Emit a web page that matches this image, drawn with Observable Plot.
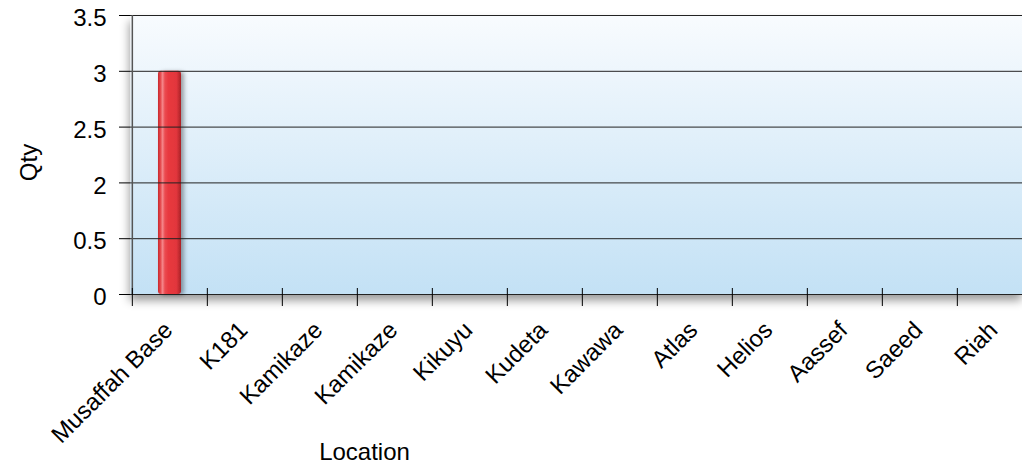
<!DOCTYPE html>
<html><head><meta charset="utf-8">
<script src="https://cdn.jsdelivr.net/npm/d3@7"></script>
<script src="https://cdn.jsdelivr.net/npm/@observablehq/plot@0.6"></script>
<style>body{margin:0;background:#fff;} svg{display:block;overflow:hidden}</style>
</head><body><div id="chart"></div>
<script>
const locations = ["Musaffah Base","K181","Kamikaze","Kamikaze","Kikuyu","Kudeta","Kawawa","Atlas","Helios","Aassef","Saeed","Riah"];
const qty = [3,0,0,0,0,0,0,0,0,0,0,0];
const yTicks = [0,0.5,2,2.5,3,3.5];
const yLabel = "Qty";
const xLabel = "Location";

(function () {
const idx = d3.range(locations.length);
const W = 1022, H = 465, pLeft = 130, pTop = 15, pBottom = 294, pRight = 1034;
const step = (pRight - pLeft) / locations.length;
const font = '"Liberation Sans", Arial, sans-serif';
const fs = 24;
// the reference's value axis is evenly spaced over its (uneven) tick labels
const piece = d3.scaleLinear().domain(yTicks).range(d3.range(yTicks.length));

const chart = Plot.plot({
  width: W, height: H,
  marginLeft: pLeft, marginTop: pTop, marginBottom: H - pBottom, marginRight: 0,
  style: {fontFamily: font, fontSize: fs + "px", color: "#000", background: "transparent"},
  x: {type: "band", domain: idx, range: [pLeft, pRight], paddingInner: 0.69, paddingOuter: 0.345, axis: null},
  y: {transform: v => piece(v), domain: [0, yTicks.length - 1], range: [pBottom, pTop], axis: null},
  marks: [
    Plot.frame({fill: "url(#bgGrad)", stroke: null}),
    Plot.barY(idx.filter(i => qty[i] > 0), {x: i => i, y1: 0, y2: i => qty[i], fill: "url(#barGrad)", rx: 3}),
    Plot.ruleY(yTicks, {y: d => d, stroke: "#222", strokeWidth: 1}),
    Plot.ruleX([0], {x: d => d, dx: -step / 2, y1: yTicks[0], y2: yTicks[yTicks.length - 1], stroke: "#555", strokeWidth: 1.5}),
    Plot.ruleX(idx, {x: d => d, dx: -step / 2, y1: 0, y2: 0, insetTop: -6, insetBottom: -12, stroke: "#000", strokeWidth: 1}),
    Plot.tickY(yTicks, {y: d => d, stroke: "#000", strokeWidth: 1}),
    Plot.text(yTicks, {y: d => d, text: d => String(d), frameAnchor: "left", textAnchor: "end", dx: -24, dy: 3, fontSize: fs, fill: "#000"}),
    Plot.text(idx, {x: d => d, text: d => locations[d], frameAnchor: "bottom", rotate: -45, textAnchor: "end", lineAnchor: "top", dx: -8, dy: 25, fontSize: fs, fill: "#000"}),
    Plot.text([yLabel], {text: d => d, frameAnchor: "left", dx: -101, dy: 7.5, rotate: -90, textAnchor: "middle", lineAnchor: "middle", fontSize: fs, fill: "#000"}),
    Plot.text([xLabel], {text: d => d, frameAnchor: "bottom-left", dx: 234, dy: 158, textAnchor: "middle", lineAnchor: "middle", fontSize: fs, fill: "#000"})
  ]
});

const svg = d3.select(chart);
// short tick marks to the left of the value axis
svg.selectAll('g[aria-label="tick"] line').attr("x1", pLeft - 11).attr("x2", pLeft).attr("transform", null);
const defs = svg.insert("defs", ":first-child");
const bg = defs.append("linearGradient").attr("id", "bgGrad").attr("x1", 0).attr("y1", 0).attr("x2", 0).attr("y2", 1);
bg.append("stop").attr("offset", "0%").attr("stop-color", "#f8fbfe");
bg.append("stop").attr("offset", "100%").attr("stop-color", "#c3e1f5");
const bar = defs.append("linearGradient").attr("id", "barGrad").attr("x1", 0).attr("y1", 0).attr("x2", 1).attr("y2", 0);
[["0%", "#c8272d"], ["10%", "#e3454a"], ["20%", "#f5868a"], ["30%", "#eb4a50"], ["45%", "#e8393f"], ["80%", "#e2363c"], ["100%", "#a92226"]]
  .forEach(([o, c]) => bar.append("stop").attr("offset", o).attr("stop-color", c));
const f1 = defs.append("filter").attr("id", "frameShadow").attr("x", "-5%").attr("y", "-10%").attr("width", "110%").attr("height", "125%");
f1.append("feDropShadow").attr("dx", -1).attr("dy", 6).attr("stdDeviation", 5).attr("flood-color", "#000").attr("flood-opacity", 0.4);
const f2 = defs.append("filter").attr("id", "barShadow").attr("x", "-30%").attr("y", "-5%").attr("width", "180%").attr("height", "110%");
f2.append("feDropShadow").attr("dx", 3).attr("dy", 1).attr("stdDeviation", 2).attr("flood-color", "#000").attr("flood-opacity", 0.35);
svg.select('g[aria-label="frame"]').attr("filter", "url(#frameShadow)");
svg.select('rect[aria-label="frame"]').attr("filter", "url(#frameShadow)");
svg.select('g[aria-label="bar"]').attr("filter", "url(#barShadow)");

document.getElementById("chart").appendChild(chart);
})();
</script>
</body></html>
